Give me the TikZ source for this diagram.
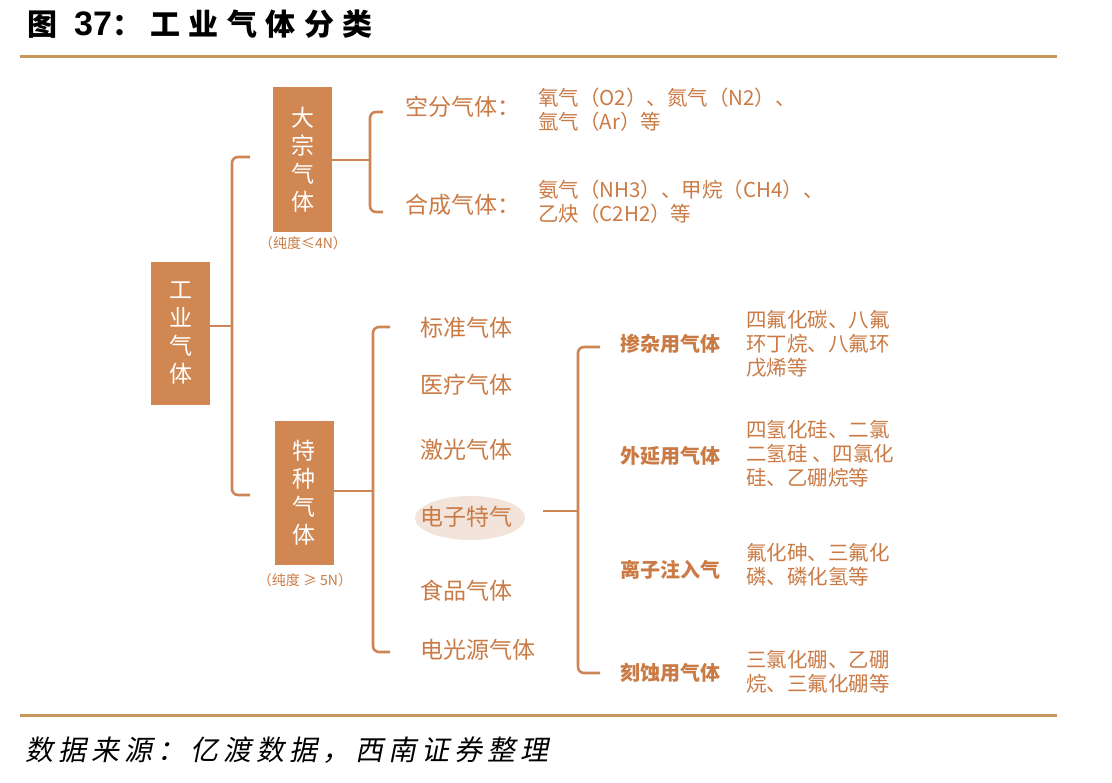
\documentclass[tikz,border=0pt]{standalone}
\usepackage{fontspec}
\setmainfont{Noto Sans CJK SC}
\newfontfamily\titleplain{Noto Sans CJK SC}
\newfontfamily\titledigits{Liberation Sans}
\newfontfamily\titlefont[LetterSpace=28]{Noto Sans CJK SC}
\newfontfamily\footfont[FakeSlant=0.2,LetterSpace=18]{Noto Sans CJK SC}
\usetikzlibrary{shapes.geometric}
\definecolor{rule}{RGB}{200,150,90}
\definecolor{boxc}{RGB}{208,135,82}
\definecolor{txt}{RGB}{202,122,68}
\definecolor{ln}{RGB}{205,133,85}
\definecolor{elf}{RGB}{242,228,218}
\tikzset{
  vbox/.style={fill=boxc, text=white, minimum width=59pt, inner sep=0pt, align=center,
    font=\fontsize{23}{28}\selectfont},
  conn/.style={draw=ln, line width=2.6pt, rounded corners=6pt},
  itemtxt/.style={text=txt, anchor=west, inner sep=0pt, font=\fontsize{23}{23}\selectfont},
  subtxt/.style={text=txt, anchor=west, inner sep=0pt, font=\bfseries\fontsize{20}{20}\selectfont},
  dettxt/.style={text=txt, anchor=west, inner sep=0pt, align=left, font=\fontsize{20.5}{24}\selectfont},
  puretxt/.style={text=txt, inner sep=0pt, font=\fontsize{14}{14}\selectfont},
}
\begin{document}
\begin{tikzpicture}[x=1pt,y=-1pt]
\useasboundingbox (0,0) rectangle (1112,783);
% title and rules
\node[anchor=west, inner sep=0pt, font=\bfseries\fontsize{30}{30}\selectfont] (title) at (27,24)
  {{\titleplain 图}\hspace{17pt}{\titledigits\fontsize{34}{34}\selectfont 37}{\titlefont ：工业气体分类}};
\draw[rule, line width=3pt] (20,57) coordinate (r1a) -- (1057,57) coordinate (r1b);
\draw[rule, line width=3pt] (20,715) coordinate (r2a) -- (1057,715) coordinate (r2b);
\node[anchor=west, inner sep=0pt, font=\footfont\fontsize{28}{28}\selectfont] (foot) at (25,750) {数据来源：亿渡数据，西南证券整理};

% boxes
\node[vbox, minimum height=143pt] (gy) at (180.5,333.5) {工\\业\\气\\体};
\node[vbox, minimum height=145pt] (dz) at (302.5,159.5) {大\\宗\\气\\体};
\node[vbox, minimum height=144pt] (tz) at (304,493) {特\\种\\气\\体};
\node[puretxt] (p1) at (303,243) {（纯度≤4N）};
\node[puretxt] (p2) at (305,580) {（纯度 ≥ 5N）};

% main bracket
\coordinate (b1t) at (250,157);
\coordinate (b1m) at (232,326);
\coordinate (b1b) at (250,495);
\draw[conn] (b1t) -| (b1m) |- (b1b);
\draw[conn] (gy.east |- b1m) -- (b1m);

% bulk bracket
\coordinate (b2t) at (383,112);
\coordinate (b2m) at (370,160);
\coordinate (b2b) at (383,212);
\draw[conn] (b2t) -| (b2m) |- (b2b);
\draw[conn] (dz.east |- b2m) -- (b2m);
\node[itemtxt] (kf) at (405,107) {空分气体：};
\node[itemtxt] (hc) at (405,205) {合成气体：};
\node[dettxt] (kfd) at (538,110) {氧气（O2）、氮气（N2）、\\氩气（Ar）等};
\node[dettxt] (hcd) at (538,202) {氨气（NH3）、甲烷（CH4）、\\乙炔（C2H2）等};

% special bracket
\coordinate (b3t) at (390,327);
\coordinate (b3m) at (373,491);
\coordinate (b3b) at (390,652);
\draw[conn] (b3t) -| (b3m) |- (b3b);
\draw[conn] (tz.east |- b3m) -- (b3m);
\node[itemtxt] (i1) at (420,328) {标准气体};
\node[itemtxt] (i2) at (420,385) {医疗气体};
\node[itemtxt] (i3) at (420,450) {激光气体};
\node[ellipse, fill=elf, minimum width=110pt, minimum height=44pt, inner sep=0pt] (ell) at (470,518) {};
\node[itemtxt] (i4) at (420,517) {电子特气};
\node[itemtxt] (i5) at (420,591) {食品气体};
\node[itemtxt] (i6) at (420,650) {电光源气体};

% electronic bracket
\coordinate (b4t) at (600,347);
\coordinate (b4m) at (578,511);
\coordinate (b4b) at (600,673);
\draw[conn] (b4t) -| (b4m) |- (b4b);
\draw[conn] ([xshift=18pt]ell.east |- b4m) -- (b4m);
\node[subtxt] (s1) at (620,344) {掺杂用气体};
\node[subtxt] (s2) at (620,456) {外延用气体};
\node[subtxt] (s3) at (620,570) {离子注入气};
\node[subtxt] (s4) at (620,673) {刻蚀用气体};
\node[dettxt] (d1) at (746,344) {四氟化碳、八氟\\环丁烷、八氟环\\戊烯等};
\node[dettxt] (d2) at (746,454) {四氢化硅、二氯\\二氢硅 、四氯化\\硅、乙硼烷等};
\node[dettxt] (d3) at (746,565) {氟化砷、三氟化\\磷、磷化氢等};
\node[dettxt] (d4) at (746,672) {三氯化硼、乙硼\\烷、三氟化硼等};
\end{tikzpicture}
\end{document}
